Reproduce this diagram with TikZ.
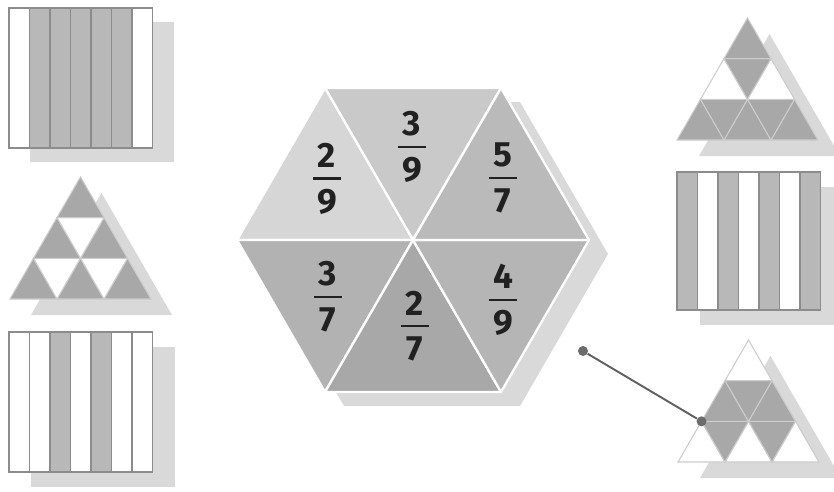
\documentclass[tikz,border=0pt]{standalone}
\usepackage{fontspec}
\newfontfamily\fracfont{Fira Sans}

\definecolor{shadowgray}{gray}{0.85}
\definecolor{stripegray}{gray}{0.72}
\definecolor{edgegray}{gray}{0.55}
\definecolor{piecegray}{gray}{0.66}
\definecolor{pieceedge}{gray}{0.80}
\definecolor{hexA}{gray}{0.84}
\definecolor{hexB}{gray}{0.79}
\definecolor{hexC}{gray}{0.73}
\definecolor{hexD}{gray}{0.70}
\definecolor{hexE}{gray}{0.66}
\definecolor{hexF}{gray}{0.71}
\definecolor{inkgray}{gray}{0.13}

\newcommand{\hexfrac}[2]{\vbox{\offinterlineskip\halign{\hfil##\hfil\cr#1\cr\noalign{\kern5.5pt}\rule{16pt}{1.2pt}\cr\noalign{\kern5.5pt}#2\cr}}}

\tikzset{
  shadowfill/.style={fill=shadowgray},
  stripewhite/.style={draw=edgegray, fill=white, line width=0.7pt},
  stripegrey/.style={draw=edgegray, fill=stripegray, line width=0.7pt},
  frame/.style={draw=edgegray, line width=0.9pt},
  piecegrey/.style={draw=pieceedge, fill=piecegray, line width=0.6pt},
  piecewhite/.style={draw=pieceedge, fill=white, line width=0.6pt},
  sector/.style={draw=white, line width=1.3pt, line join=round},
  frac/.style={inner sep=0pt, text=inkgray, font=\fracfont\bfseries\fontsize{20}{22}\selectfont},
  dot/.style={circle, fill=gray!85!black, draw=none, minimum size=0.2cm, inner sep=0pt},
  link/.style={draw=gray!75!black, line width=1.1pt}
}

\begin{document}
\begin{tikzpicture}[x=0.02cm, y=-0.02cm]
\useasboundingbox (0,0) rectangle (834,491);

% left top bar, 5 of 7
\fill[shadowfill] (30,22) rectangle ++(143.5,140);
\draw[stripewhite] (9,8) rectangle ++(20.5,140);
\draw[stripegrey] (29.5,8) rectangle ++(20.5,140);
\draw[stripegrey] (50,8) rectangle ++(20.5,140);
\draw[stripegrey] (70.5,8) rectangle ++(20.5,140);
\draw[stripegrey] (91,8) rectangle ++(20.5,140);
\draw[stripegrey] (111.5,8) rectangle ++(20.5,140);
\draw[stripewhite] (132,8) rectangle ++(20.5,140);
\draw[frame] (9,8) rectangle ++(143.5,140);

% left bottom bar, 2 of 7
\fill[shadowfill] (31,347) rectangle ++(143.5,140);
\draw[stripewhite] (9,332) rectangle ++(20.5,140);
\draw[stripewhite] (29.5,332) rectangle ++(20.5,140);
\draw[stripegrey] (50,332) rectangle ++(20.5,140);
\draw[stripewhite] (70.5,332) rectangle ++(20.5,140);
\draw[stripegrey] (91,332) rectangle ++(20.5,140);
\draw[stripewhite] (111.5,332) rectangle ++(20.5,140);
\draw[stripewhite] (132,332) rectangle ++(20.5,140);
\draw[frame] (9,332) rectangle ++(143.5,140);

% right bar, 4 of 7
\fill[shadowfill] (700,187) rectangle ++(143.5,138);
\draw[stripegrey] (677,172) rectangle ++(20.5,138);
\draw[stripewhite] (697.5,172) rectangle ++(20.5,138);
\draw[stripegrey] (718,172) rectangle ++(20.5,138);
\draw[stripewhite] (738.5,172) rectangle ++(20.5,138);
\draw[stripegrey] (759,172) rectangle ++(20.5,138);
\draw[stripewhite] (779.5,172) rectangle ++(20.5,138);
\draw[stripegrey] (800,172) rectangle ++(20.5,138);
\draw[frame] (677,172) rectangle ++(143.5,138);

% left triangle, 6 of 9
\begin{scope}[shift={(10,299)}, x={(0.94cm,0cm)}, y={(0.47cm,0.814cm)}]
\fill[shadowfill, xshift=0.42cm, yshift=-0.32cm] (0,0) -- (3,0) -- (0,3) -- cycle;
\draw[piecegrey] (0,0) -- (1,0) -- (0,1) -- cycle;
\draw[piecegrey] (1,0) -- (2,0) -- (1,1) -- cycle;
\draw[piecegrey] (2,0) -- (3,0) -- (2,1) -- cycle;
\draw[piecewhite] (1,0) -- (1,1) -- (0,1) -- cycle;
\draw[piecewhite] (2,0) -- (2,1) -- (1,1) -- cycle;
\draw[piecegrey] (0,1) -- (1,1) -- (0,2) -- cycle;
\draw[piecegrey] (1,1) -- (2,1) -- (1,2) -- cycle;
\draw[piecewhite] (1,1) -- (1,2) -- (0,2) -- cycle;
\draw[piecegrey] (0,2) -- (1,2) -- (0,3) -- cycle;
\end{scope}

% right top triangle, 7 of 9
\begin{scope}[shift={(677,140)}, x={(0.94cm,0cm)}, y={(0.47cm,0.814cm)}]
\fill[shadowfill, xshift=0.44cm, yshift=-0.32cm] (0,0) -- (3,0) -- (0,3) -- cycle;
\draw[piecegrey] (0,0) -- (1,0) -- (0,1) -- cycle;
\draw[piecegrey] (1,0) -- (2,0) -- (1,1) -- cycle;
\draw[piecegrey] (2,0) -- (3,0) -- (2,1) -- cycle;
\draw[piecegrey] (1,0) -- (1,1) -- (0,1) -- cycle;
\draw[piecegrey] (2,0) -- (2,1) -- (1,1) -- cycle;
\draw[piecewhite] (0,1) -- (1,1) -- (0,2) -- cycle;
\draw[piecewhite] (1,1) -- (2,1) -- (1,2) -- cycle;
\draw[piecegrey] (1,1) -- (1,2) -- (0,2) -- cycle;
\draw[piecegrey] (0,2) -- (1,2) -- (0,3) -- cycle;
\end{scope}

% right bottom triangle, 5 of 9
\begin{scope}[shift={(678,462)}, x={(0.94cm,0cm)}, y={(0.47cm,0.814cm)}]
\fill[shadowfill, xshift=0.44cm, yshift=-0.32cm] (0,0) -- (3,0) -- (0,3) -- cycle;
\draw[piecewhite] (0,0) -- (1,0) -- (0,1) -- cycle;
\draw[piecewhite] (1,0) -- (2,0) -- (1,1) -- cycle;
\draw[piecewhite] (2,0) -- (3,0) -- (2,1) -- cycle;
\draw[piecegrey] (1,0) -- (1,1) -- (0,1) -- cycle;
\draw[piecegrey] (2,0) -- (2,1) -- (1,1) -- cycle;
\draw[piecegrey] (0,1) -- (1,1) -- (0,2) -- cycle;
\draw[piecegrey] (1,1) -- (2,1) -- (1,2) -- cycle;
\draw[piecegrey] (1,1) -- (1,2) -- (0,2) -- cycle;
\draw[piecewhite] (0,2) -- (1,2) -- (0,3) -- cycle;
\coordinate (tip) at (0,1);
\end{scope}

% hexagon of fractions
\coordinate (hc) at (413,240);
\coordinate (h0) at (589,240);
\coordinate (h1) at (501,88);
\coordinate (h2) at (325,88);
\coordinate (h3) at (237,240);
\coordinate (h4) at (325,392);
\coordinate (h5) at (501,392);
\fill[shadowfill] ([shift={(19,14)}]h0) -- ([shift={(19,14)}]h1) -- ([shift={(19,14)}]h2)
  -- ([shift={(19,14)}]h3) -- ([shift={(19,14)}]h4) -- ([shift={(19,14)}]h5) -- cycle;
\filldraw[sector, fill=hexB] (hc) -- (h1) -- (h2) -- cycle;
\filldraw[sector, fill=hexA] (hc) -- (h2) -- (h3) -- cycle;
\filldraw[sector, fill=hexD] (hc) -- (h3) -- (h4) -- cycle;
\filldraw[sector, fill=hexE] (hc) -- (h4) -- (h5) -- cycle;
\filldraw[sector, fill=hexF] (hc) -- (h5) -- (h0) -- cycle;
\filldraw[sector, fill=hexC] (hc) -- (h0) -- (h1) -- cycle;

\node[frac] (twoninths) at (327,179) {\hexfrac{2}{9}};
\node[frac] (threeninths) at (412,147) {\hexfrac{3}{9}};
\node[frac] (fivesevenths) at (503,178) {\hexfrac{5}{7}};
\node[frac] (threesevenths) at (328,297) {\hexfrac{3}{7}};
\node[frac] (twosevenths) at (415,326) {\hexfrac{2}{7}};
\node[frac] (fourninths) at (503,300) {\hexfrac{4}{9}};

% pointer to the last triangle
\node[dot] (pin) at (583,351) {};
\node[dot] (pinend) at (tip) {};
\draw[link] (pin) -- (pinend);
\end{tikzpicture}
\end{document}
